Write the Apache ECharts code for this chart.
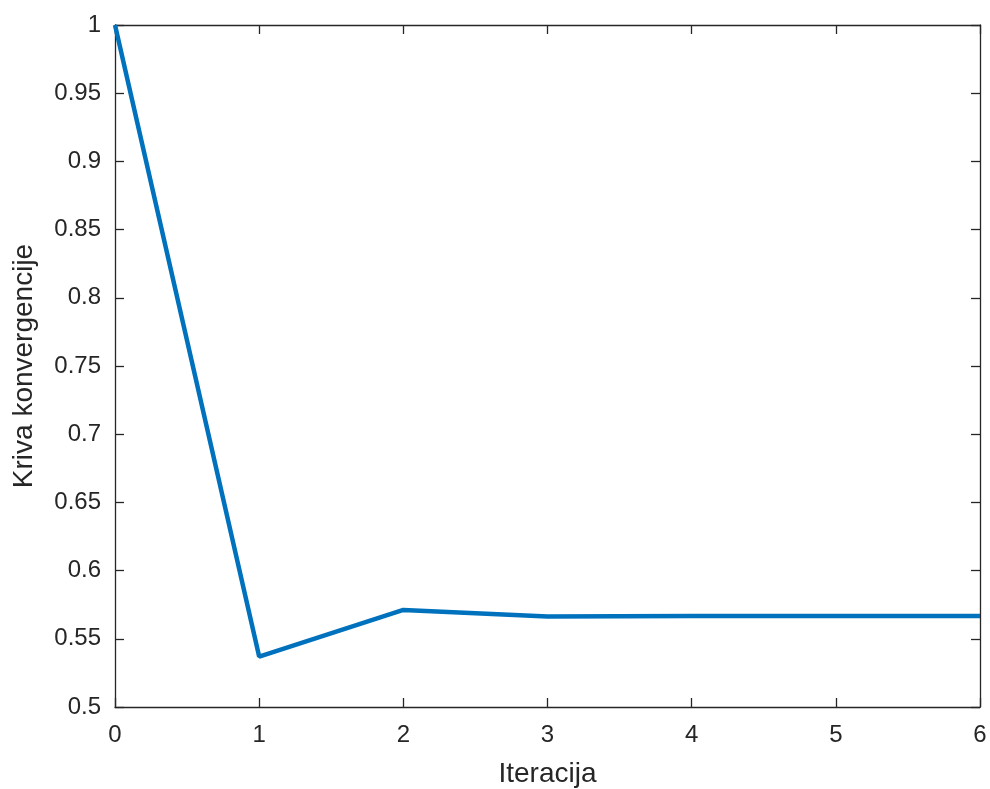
<!DOCTYPE html>
<html><head><meta charset="utf-8">
<script src="https://cdn.jsdelivr.net/npm/echarts@6/dist/echarts.min.js"></script>
<style>html,body{margin:0;padding:0;background:#fff}#c{width:990px;height:789px}</style>
</head><body><div id="c"></div>
<script>
const iterations = [0, 1, 2, 3, 4, 5, 6];
const convergence = [1.0, 0.537, 0.5712, 0.5663, 0.5668, 0.5668, 0.5668];
const xTicks = [0, 1, 2, 3, 4, 5, 6];
const yTicks = [0.5, 0.55, 0.6, 0.65, 0.7, 0.75, 0.8, 0.85, 0.9, 0.95, 1];

const axisColor = '#262626';
const font = 'Liberation Sans, Arial, sans-serif';
const chart = echarts.init(document.getElementById('c'));
const baseX = {
  type: 'value', min: 0, max: 6, interval: 1,
  axisLine: { show: true, onZero: false, lineStyle: { color: axisColor, width: 1.3 } },
  axisTick: { show: true, inside: true, length: 9, lineStyle: { color: axisColor, width: 1.3 } },
  splitLine: { show: false }
};
const baseY = {
  type: 'value', min: 0.5, max: 1, interval: 0.05,
  axisLine: { show: true, onZero: false, lineStyle: { color: axisColor, width: 1.3 } },
  axisTick: { show: true, inside: true, length: 9, lineStyle: { color: axisColor, width: 1.3 } },
  splitLine: { show: false }
};
chart.setOption({
  animation: false,
  grid: { left: 115, right: 10, top: 25, bottom: 82, containLabel: false, outerBoundsMode: 'none' },
  xAxis: [
    Object.assign({}, baseX, {
      position: 'bottom',
      name: 'Iteracija', nameLocation: 'middle', nameGap: 53,
      nameTextStyle: { fontFamily: font, fontSize: 28, color: axisColor },
      axisLabel: { fontFamily: font, fontSize: 24, color: axisColor, margin: 16,
        formatter: v => xTicks.includes(v) ? String(v) : '' }
    }),
    Object.assign({}, baseX, { position: 'top', axisLabel: { show: false } })
  ],
  yAxis: [
    Object.assign({}, baseY, {
      position: 'left',
      name: 'Kriva konvergencije', nameLocation: 'middle', nameGap: 77,
      nameTextStyle: { fontFamily: font, fontSize: 28, color: axisColor },
      axisLabel: { fontFamily: font, fontSize: 24, color: axisColor, margin: 14,
        formatter: v => { const t = yTicks.find(a => Math.abs(a - v) < 1e-9); return t === undefined ? '' : String(t); } }
    }),
    Object.assign({}, baseY, { position: 'right', axisLabel: { show: false } })
  ],
  series: [{
    type: 'line',
    data: iterations.map((x, i) => [x, convergence[i]]),
    xAxisIndex: 0, yAxisIndex: 0,
    symbol: 'none',
    lineStyle: { color: '#0072BD', width: 4.5 },
    clip: false
  }]
});
</script></body></html>
